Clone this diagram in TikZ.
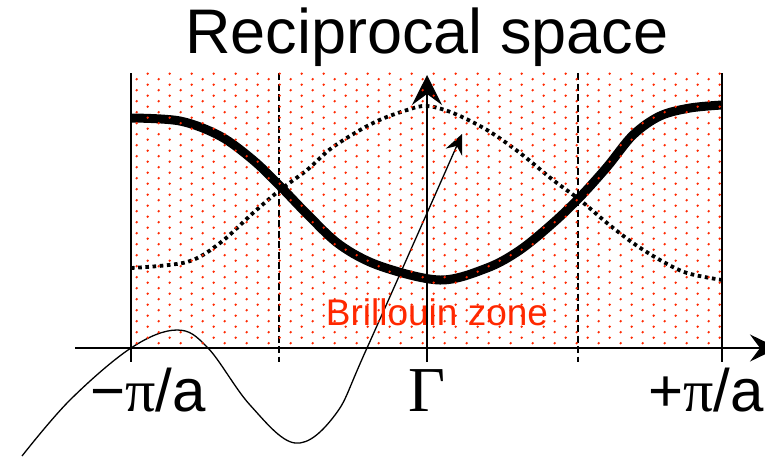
\documentclass[tikz,border=0pt]{standalone}
\usepackage{fontspec}
\setmainfont{Liberation Sans}
\newfontfamily\greekserif{Liberation Serif}
\usetikzlibrary{arrows.meta}
\definecolor{bzred}{RGB}{255,40,0}

\begin{document}
\begin{tikzpicture}[
  x=1pt, y=-1pt,
  axisline/.style={line width=2pt},
  zoneline/.style={line width=1.6pt},
  zonedash/.style={line width=1.6pt, dash pattern=on 7pt off 3.5pt},
  band/.style={line width=9pt, line join=round},
  dotband/.style={line width=3.8pt, dash pattern=on 3.6pt off 3.6pt},
  wave/.style={line width=1.3pt, line join=round},
  bigtip/.style={-{Stealth[length=30pt,width=30pt,inset=11pt]}},
  axistip/.style={-{Stealth[length=28pt,width=27pt,inset=10pt]}},
  smalltip/.style={-{Stealth[length=20pt,width=18pt,inset=7pt]}},
  title/.style={anchor=base, inner sep=0pt, font=\fontsize{63}{70}\selectfont},
  klabel/.style={anchor=base, inner sep=0pt, font=\fontsize{60}{66}\selectfont},
  zonelabel/.style={anchor=base, inner sep=0pt, text=bzred,
    font=\fontsize{37}{42}\selectfont}
]
\useasboundingbox (0,0) rectangle (765,456);
\clip (0,0) rectangle (765,456);

% Title
\node[title] (head) at (427,53) {Reciprocal space};

% Zone edges and axis points
\coordinate (axL) at (75,348);
\coordinate (axR) at (778,348);
\coordinate (zLtop) at (131,73);
\coordinate (zLbot) at (131,362);
\coordinate (zRtop) at (722,73);
\coordinate (zRbot) at (722,362);
\coordinate (hLtop) at (279,73);
\coordinate (hLbot) at (279,362);
\coordinate (hRtop) at (578,73);
\coordinate (hRbot) at (578,362);
\coordinate (gbot) at (427,362);
\coordinate (gtop) at (427,75);

% Axis and lines
\draw[axisline, axistip] (axL) -- (axR);
\draw[zoneline] (zLtop) -- (zLbot);
\draw[zoneline] (zRtop) -- (zRbot);
\draw[zonedash] (hLtop) -- (hLbot);
\draw[zonedash] (hRtop) -- (hRbot);
\draw[axisline, bigtip] (gbot) -- (gtop);

% Bands
\draw[band] plot[smooth, tension=0.55] coordinates {
  (131,118) (180,121) (220,136) (253,160) (280,186) (307,214) (340,245)
  (380,266) (440,280) (487,268) (520,250) (553,223) (580,197) (607,167)
  (633,135) (660,116) (690,108) (722,105)};
\draw[dotband] plot[smooth, tension=0.55] coordinates {
  (131,268) (187,262) (220,243) (253,213) (280,190) (307,170) (333,147)
  (373,123) (407,110) (427,106) (453,113) (487,130) (520,153) (553,180)
  (580,200) (607,223) (633,243) (660,260) (687,273) (722,280)};

% Real space wave
\draw[wave, smalltip] plot[smooth, tension=0.6] coordinates {
  (22,456) (70,400) (131,348) (177,330) (208,348) (250,405) (295,443)
  (335,415) (367,348) (462,134)};

% Labels
\node[zonelabel] (bz) at (437,325) {Brillouin zone};
\node[klabel] (kmin) at (148,411) {−{\greekserif π}/a};
\node[klabel, anchor=base west] (kmax) at (648,411) {+{\greekserif π}/a};
\node[klabel, font=\greekserif\fontsize{64}{70}\selectfont] (gam) at (427,411) {Γ};

% Dots of the zone
\foreach \j in {0,...,49} {
  \pgfmathsetmacro\yy{73.7+5.5*\j}
  \pgfmathsetmacro\xo{mod(\j,2)==0 ? 147.7 : 136.7}
  \foreach \i in {0,...,26} {
    \fill[bzred] (\xo+22*\i,\yy) circle (1.3pt);
  }
}

\end{tikzpicture}
\end{document}
